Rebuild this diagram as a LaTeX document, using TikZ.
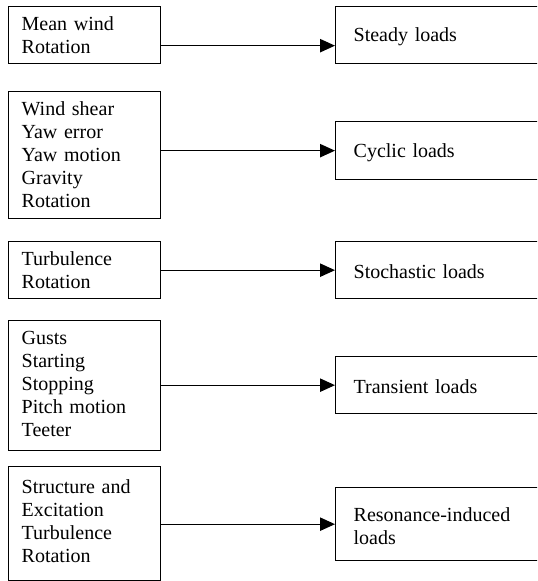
\documentclass[tikz,border=0pt]{standalone}
\usepackage{fontspec}
\setmainfont{Liberation Serif}
\usetikzlibrary{arrows.meta}

\tikzset{
    cause/.style={draw, line width=0.8pt, anchor=north west, inner xsep=7.8pt, inner ysep=0pt,
        text width=75.6pt, align=left, text height=14.4pt, text depth=#1},
    loads/.style={draw, line width=0.8pt, anchor=north west, inner xsep=10.8pt, inner ysep=0pt,
        text width=149.4pt, align=left, text height=10.6pt, minimum height=#1},
    feed/.style={line width=0.8pt, -{Triangle[length=9pt,width=8pt]}}
}

\begin{document}
\begin{tikzpicture}[x=0.6pt, y=-0.6pt, font=\fontsize{12}{13.8}\selectfont]
    \useasboundingbox (0,0) rectangle (537,581);
    \clip (0,0) rectangle (537,581);

    %causes on the left
        \node[cause=19.8pt] (l1) at (8,6) {Mean wind\\Rotation};
        \node[cause=61.8pt] (l2) at (8,91) {Wind shear\\Yaw error\\Yaw motion\\Gravity\\Rotation};
        \node[cause=19.8pt] (l3) at (8,241) {Turbulence\\Rotation};
        \node[cause=63.6pt] (l4) at (8,320) {Gusts\\Starting\\Stopping\\Pitch motion\\Teeter};
        \node[cause=52.2pt, text height=16.2pt] (l5) at (8,466) {Structure and\\Excitation\\Turbulence\\Rotation};

    %kinds of loads on the right
        \node[loads=34.2pt] (r1) at (335,6) {Steady loads};
        \node[loads=34.8pt] (r2) at (335,121) {Cyclic loads};
        \node[loads=34.2pt] (r3) at (335,241) {Stochastic loads};
        \node[loads=34.2pt] (r4) at (335,356) {Transient loads};
        \node[loads=43.8pt] (r5) at (335,487) {Resonance-induced\\loads};

    %arrows
    \draw[feed] ([yshift=-6.3pt]l1.east) -- ([yshift=-6.3pt]r1.west);
    \draw[feed] (l2.east |- r2.west) -- (r2.west);
    \draw[feed] (l3.east |- r3.west) -- (r3.west);
    \draw[feed] (l4.east |- r4.west) -- (r4.west);
    \draw[feed] (l5.east |- r5.west) -- (r5.west);

\end{tikzpicture}
\end{document}
